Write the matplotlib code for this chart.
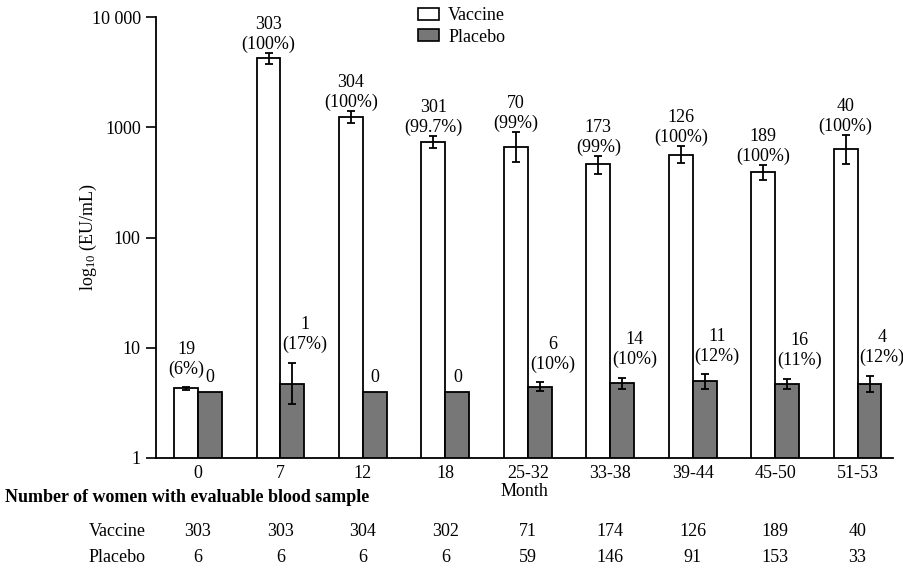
import numpy as np
import matplotlib
matplotlib.use("Agg")
import matplotlib.pyplot as plt
from matplotlib.patches import Patch

plt.rcParams['font.family'] = ['Liberation Serif', 'DejaVu Serif']
plt.rcParams['mathtext.fontset'] = 'custom'
plt.rcParams['mathtext.rm'] = 'Liberation Serif'
plt.rcParams['mathtext.default'] = 'regular'

# data
months = ['0', '7', '12', '18', '25-32', '33-38', '39-44', '45-50', '51-53']
vac_gmt = [4.3, 4245, 1233, 730, 667, 461, 563, 394, 631]
vac_lo = [4.1, 3715, 1087, 644, 480, 376, 470, 331, 461]
vac_hi = [4.45, 4720, 1400, 828, 912, 548, 680, 457, 851]
pla_gmt = [4.0, 4.7, 4.0, 4.0, 4.4, 4.8, 4.95, 4.7, 4.7]
pla_lo = [4.0, 3.1, 4.0, 4.0, 4.07, 4.25, 4.25, 4.25, 3.93]
pla_hi = [4.0, 7.3, 4.0, 4.0, 4.84, 5.3, 5.73, 5.23, 5.57]

vac_pos = [19, 303, 304, 301, 70, 173, 126, 189, 40]
vac_pct = ['6%', '100%', '100%', '99.7%', '99%', '99%', '100%', '100%', '100%']
pla_pos = [0, 1, 0, 0, 6, 14, 11, 16, 4]
pla_pct = [None, '17%', None, None, '10%', '10%', '12%', '11%', '12%']

n_vac = [303, 303, 304, 302, 71, 174, 126, 189, 40]
n_pla = [6, 6, 6, 6, 59, 146, 91, 153, 33]

FS = 13
w = 0.29
x = np.arange(len(months))

fig = plt.figure(figsize=(9.04, 5.74), dpi=100)
ax = fig.add_axes([156/904, 1-458/574, (893-156)/904, (458-17)/574])

ax.bar(x - w/2, vac_gmt, w, color='white', edgecolor='black', linewidth=1.3, zorder=2)
ax.bar(x + w/2, pla_gmt, w, color='#777777', edgecolor='black', linewidth=1.3, zorder=2)

vg = np.array(vac_gmt)
ax.errorbar(x - w/2, vg, yerr=[vg - np.array(vac_lo), np.array(vac_hi) - vg],
            fmt='none', ecolor='black', elinewidth=1.3, capsize=3, capthick=1.3, zorder=3)
pg = np.array(pla_gmt)
has_err = np.array(pla_hi) > pg
ax.errorbar((x + w/2)[has_err], pg[has_err],
            yerr=[(pg - np.array(pla_lo))[has_err], (np.array(pla_hi) - pg)[has_err]],
            fmt='none', ecolor='black', elinewidth=1.3, capsize=3, capthick=1.3, zorder=3)

# labels over bars
for i in range(len(months)):
    off = 6 if vac_hi[i] < 10 else 0
    ax.annotate(f"{vac_pos[i]}\n({vac_pct[i]})", (x[i] - w/2, vac_hi[i]),
                xytext=(0, off), textcoords='offset points',
                ha='center', va='bottom', fontsize=FS)
    if pla_pct[i] is None:
        ax.annotate(f"{pla_pos[i]}", (x[i] + w/2, pla_hi[i]),
                    xytext=(0, 4), textcoords='offset points',
                    ha='center', va='bottom', fontsize=FS)
    else:
        ax.annotate(f"{pla_pos[i]}\n({pla_pct[i]})", (x[i] + w/2, pla_hi[i]),
                    xytext=(9, 7), textcoords='offset points',
                    ha='center', va='bottom', fontsize=FS)

ax.set_yscale('log')
ax.set_ylim(1, 10000)
ax.set_xlim(-0.51, 8.43)
ax.set_yticks([1, 10, 100, 1000, 10000])
ax.set_yticklabels(['1', '10', '100', '1000', '10 000'], fontsize=FS)
ax.yaxis.set_minor_locator(matplotlib.ticker.NullLocator())
ax.tick_params(axis='y', length=7, width=1.2, pad=4)
ax.set_xticks(x)
ax.set_xticklabels(months, fontsize=FS)
ax.tick_params(axis='x', length=0, pad=5)
ax.set_xlabel('Month', fontsize=FS, labelpad=1)
ax.set_ylabel('log$_{10}$ (EU/mL)', fontsize=FS)
ax.yaxis.set_label_coords(-0.078, 0.5)

ax.spines['top'].set_visible(False)
ax.spines['right'].set_visible(False)
ax.spines['left'].set_linewidth(1.3)
ax.spines['bottom'].set_linewidth(1.3)

# legend
handles = [Patch(facecolor='white', edgecolor='black', linewidth=1.2, label='Vaccine'),
           Patch(facecolor='#777777', edgecolor='black', linewidth=1.2, label='Placebo')]
fig.legend(handles=handles, loc='upper left', bbox_to_anchor=(418/904, 1-7/574),
           frameon=False, fontsize=FS, handlelength=1.17, handleheight=0.67,
           handletextpad=0.5, labelspacing=0.25, borderpad=0, borderaxespad=0)

# table of numbers
fig.text(5/904, 1-497/574, 'Number of women with evaluable blood sample',
         fontsize=FS, fontweight='bold', va='center', ha='left')
tr = ax.get_xaxis_transform()
row_y = [(458-532)/441, (458-558)/441]
for lab, vals, ry in [('Vaccine', n_vac, row_y[0]), ('Placebo', n_pla, row_y[1])]:
    fig.text(146/904, 1-(458 - ry*441)/574, lab, fontsize=FS, ha='right', va='center')
    for xi, v in zip(x, vals):
        ax.text(xi, ry, str(v), transform=tr, fontsize=FS, ha='center', va='center',
                clip_on=False)

fig.savefig('out.png', dpi=100)
